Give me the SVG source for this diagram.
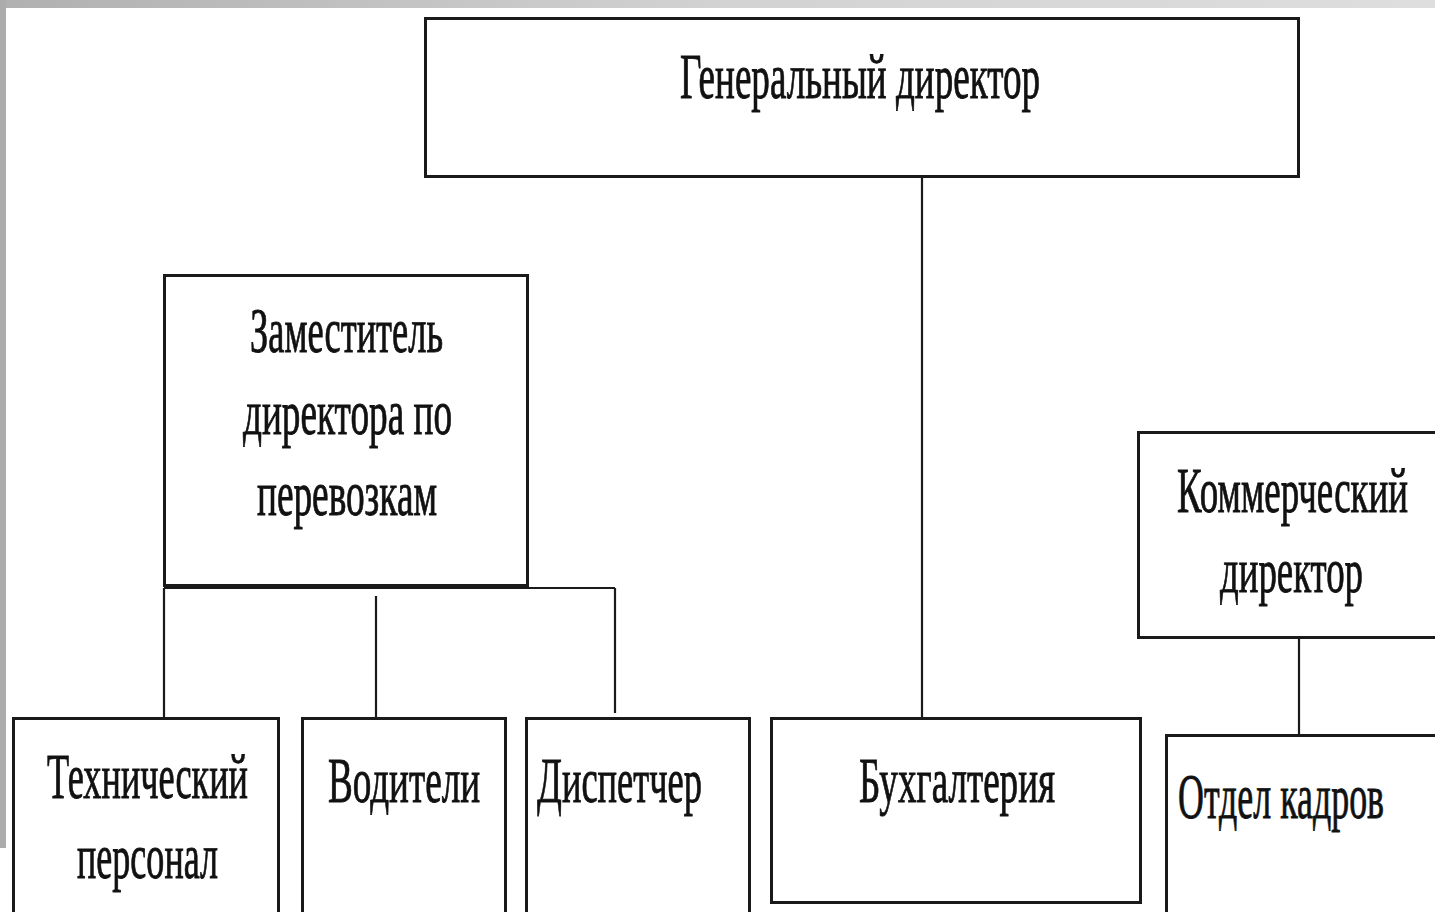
<svg xmlns="http://www.w3.org/2000/svg" width="1435" height="912" viewBox="0 0 1435 912">
  <defs>
    <linearGradient id="topbar" x1="0" y1="0" x2="1" y2="0">
      <stop offset="0" stop-color="#b0b0b0"/>
      <stop offset="0.5" stop-color="#d2d2d2"/>
      <stop offset="1" stop-color="#dedede"/>
    </linearGradient>
  </defs>
  <style>
    .box { fill: #ffffff; stroke: #1a1a1a; stroke-width: 3; }
    .conn { fill: none; stroke: #1a1a1a; stroke-width: 2.2; }
    .lbl { font-family: "Liberation Serif", "Times New Roman", serif; font-size: 64px; fill: #111111; stroke: #111111; stroke-width: 0.9px; }
  </style>
  <rect x="0" y="0" width="1435" height="912" fill="#ffffff"/>
  <rect x="0" y="0" width="1435" height="8" fill="url(#topbar)"/>
  <rect x="0" y="0" width="6" height="848" fill="#acacac"/>

  <g id="connectors">
    <line class="conn" x1="922" y1="177" x2="922" y2="718"/>
    <line class="conn" x1="164" y1="588" x2="615" y2="588"/>
    <line class="conn" x1="164" y1="588" x2="164" y2="718"/>
    <line class="conn" x1="376" y1="596" x2="376" y2="718"/>
    <line class="conn" x1="615" y1="588" x2="615" y2="713"/>
    <line class="conn" x1="1299" y1="638" x2="1299" y2="735"/>
  </g>

  <g id="general-director">
    <rect class="box" x="425.5" y="18.5" width="873" height="158"/>
    <text class="lbl" transform="matrix(0.57 0 0 1 680 98)" x="0" y="0" textLength="631.6" lengthAdjust="spacingAndGlyphs">Генеральный директор</text>
  </g>

  <g id="deputy-director">
    <rect class="box" x="164.5" y="275.5" width="363" height="310"/>
    <text class="lbl" transform="matrix(0.57 0 0 1 250 352)" x="0" y="0" textLength="338.6" lengthAdjust="spacingAndGlyphs">Заместитель</text>
    <text class="lbl" transform="matrix(0.57 0 0 1 243 434)" x="0" y="0" textLength="366.7" lengthAdjust="spacingAndGlyphs">директора по</text>
    <text class="lbl" transform="matrix(0.57 0 0 1 257 515)" x="0" y="0" textLength="315.8" lengthAdjust="spacingAndGlyphs">перевозкам</text>
  </g>

  <g id="commercial-director">
    <rect class="box" x="1138.5" y="432.5" width="310" height="205"/>
    <text class="lbl" transform="matrix(0.57 0 0 1 1177 512)" x="0" y="0" textLength="405.3" lengthAdjust="spacingAndGlyphs">Коммерческий</text>
    <text class="lbl" transform="matrix(0.57 0 0 1 1220 592)" x="0" y="0" textLength="250.9" lengthAdjust="spacingAndGlyphs">директор</text>
  </g>

  <g id="tech-staff">
    <rect class="box" x="13.5" y="718.5" width="265" height="210"/>
    <text class="lbl" transform="matrix(0.57 0 0 1 47 798)" x="0" y="0" textLength="352.6" lengthAdjust="spacingAndGlyphs">Технический</text>
    <text class="lbl" transform="matrix(0.57 0 0 1 77 878)" x="0" y="0" textLength="247.4" lengthAdjust="spacingAndGlyphs">персонал</text>
  </g>

  <g id="drivers">
    <rect class="box" x="302.5" y="718.5" width="203" height="210"/>
    <text class="lbl" transform="matrix(0.57 0 0 1 328 802)" x="0" y="0" textLength="266.7" lengthAdjust="spacingAndGlyphs">Водители</text>
  </g>

  <g id="dispatcher">
    <rect class="box" x="526.5" y="718.5" width="223" height="210"/>
    <text class="lbl" transform="matrix(0.57 0 0 1 537 802)" x="0" y="0" textLength="289.5" lengthAdjust="spacingAndGlyphs">Диспетчер</text>
  </g>

  <g id="accounting">
    <rect class="box" x="771.5" y="718.5" width="369" height="184"/>
    <text class="lbl" transform="matrix(0.57 0 0 1 859 802)" x="0" y="0" textLength="343.9" lengthAdjust="spacingAndGlyphs">Бухгалтерия</text>
  </g>

  <g id="hr">
    <rect class="box" x="1166.5" y="735.5" width="290" height="200"/>
    <text class="lbl" transform="matrix(0.57 0 0 1 1178 818)" x="0" y="0" textLength="361.4" lengthAdjust="spacingAndGlyphs">Отдел кадров</text>
  </g>
</svg>
